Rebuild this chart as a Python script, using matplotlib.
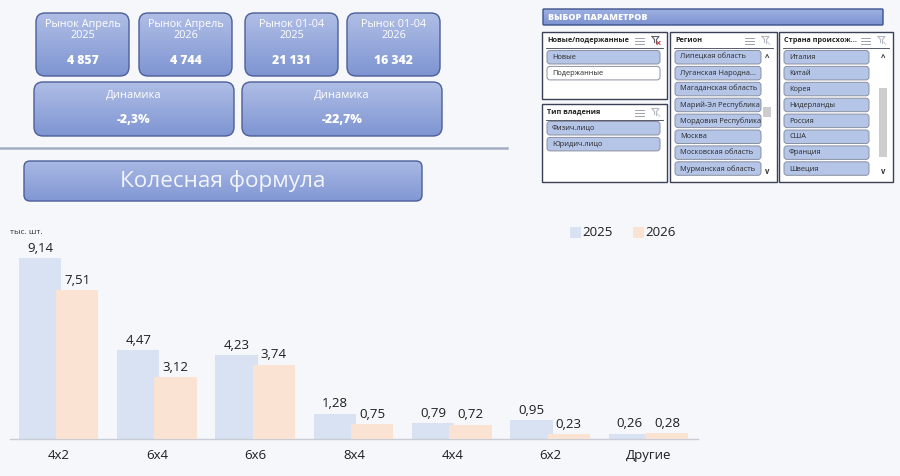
import numpy as np
import matplotlib
matplotlib.use("Agg")
import matplotlib.pyplot as plt
from matplotlib.patches import FancyBboxPatch, Rectangle
from matplotlib.colors import to_rgb

plt.rcParams['font.family'] = ['Open Sans', 'DejaVu Sans']

# ---- data ----
categories = ["4x2", "6x4", "6x6", "8x4", "4x4", "6x2", "Другие"]
values_2025 = [9.14, 4.47, 4.23, 1.28, 0.79, 0.95, 0.26]
values_2026 = [7.51, 3.12, 3.74, 0.75, 0.72, 0.23, 0.28]
series_names = ["2025", "2026"]

card_titles = ["Рынок Апрель\n2025", "Рынок Апрель\n2026", "Рынок 01-04\n2025", "Рынок 01-04\n2026"]
card_values = ["4 857", "4 744", "21 131", "16 342"]
dyn_titles = ["Динамика", "Динамика"]
dyn_values = ["-2,3%", "-22,7%"]

slicer_new_items = ["Новые", "Подержанные"]
slicer_own_items = ["Физич.лицо", "Юридич.лицо"]
slicer_region_items = ["Липецкая область", "Луганская Народна...", "Магаданская область",
                       "Марий-Эл Республика", "Мордовия Республика", "Москва",
                       "Московская область", "Мурманская область"]
slicer_country_items = ["Италия", "Китай", "Корея", "Нидерланды", "Россия", "США",
                        "Франция", "Швеция"]

BG = "#F5F7FB"
C25 = "#D9E2F3"
C26 = "#FBE3D3"

fig = plt.figure(figsize=(9, 4.76), dpi=100, facecolor=BG)

# background overlay in pixel coords
bg = fig.add_axes([0, 0, 1, 1], zorder=0)
bg.set_facecolor(BG)
bg.axis("off")


def grad_box(ax, x, y, w, h, r, ctop, cbot, ec, lw=1.0, z=2):
    patch = FancyBboxPatch((x, y), w, h, boxstyle=f"round,pad=0,rounding_size={r}",
                           facecolor="none", edgecolor=ec, linewidth=lw, zorder=z + 1)
    ax.add_patch(patch)
    t = np.linspace(0, 1, 64)[:, None]
    a = np.array(to_rgb(ctop)); b = np.array(to_rgb(cbot))
    img = (a[None, None, :] * (1 - t[:, :, None]) + b[None, None, :] * t[:, :, None])
    img = np.repeat(img, 2, axis=1)
    im = ax.imshow(img, extent=(x, x + w, y + h, y), origin="upper", aspect="auto",
                   zorder=z, interpolation="bilinear")
    im.set_clip_path(patch)
    return patch


CT, CB, CE = "#B0BEE6", "#7E95D2", "#4C5E98"

# top cards
card_x = [36, 139, 245, 347]
for cx, title, val in zip(card_x, card_titles, card_values):
    grad_box(bg, cx, 13, 93, 63, 9, CT, CB, CE)
    bg.text(cx + 46.5, 30, title, ha="center", va="center", color="white",
            fontsize=7.8, linespacing=0.95, zorder=5)
    bg.text(cx + 46.5, 61, val, ha="center", va="center", color="white",
            fontsize=8.8, fontweight="heavy", zorder=5)

dyn_x = [34, 242]
for dx, title, val in zip(dyn_x, dyn_titles, dyn_values):
    grad_box(bg, dx, 82, 200, 54, 9, CT, CB, CE)
    bg.text(dx + 100, 95, title, ha="center", va="center", color="white",
            fontsize=8, zorder=5)
    bg.text(dx + 100, 120, val, ha="center", va="center", color="white",
            fontsize=8.8, fontweight="heavy", zorder=5)

bg.plot([0, 507], [148, 148], color="#A3ADC2", lw=1.8, zorder=2)

grad_box(bg, 24, 161, 398, 40, 6, "#A9B8E4", "#8198D4", "#4C5E98")
bg.text(223, 181, "Колесная формула", ha="center", va="center", color="#F3F5FB",
        fontsize=16.2, zorder=5)

# slicer header
grad_box(bg, 543, 9, 340, 16, 1, "#9FB1E2", "#7C92D0", "#3F518C")
bg.text(548, 17, "ВЫБОР ПАРАМЕТРОВ", ha="left", va="center", color="white",
        fontsize=6.5, fontweight="heavy", zorder=5)


def icons(ax, x, y, red=False):
    # multi-select icon
    for k in range(3):
        ax.plot([x + 3, x + 9], [y - 3 + 3 * k, y - 3 + 3 * k], color="#8A8F9A", lw=0.6, zorder=6)
        ax.plot([x, x + 1.5], [y - 3 + 3 * k, y - 3 + 3 * k], color="#8A8F9A", lw=0.6, zorder=6)
    # clear filter icon
    fx = x + 17
    col = "#5A5F6A" if red else "#B5B9C2"
    ax.plot([fx, fx + 7, fx + 4.5, fx + 4.5], [y - 4, y - 4, y - 1, y + 3], color=col, lw=0.8, zorder=6)
    ax.plot([fx, fx + 2.5, fx + 2.5], [y - 4, y - 1, y + 2], color=col, lw=0.8, zorder=6)
    if red:
        ax.plot([fx + 5, fx + 8], [y + 1, y + 4], color="#D04040", lw=0.8, zorder=6)
        ax.plot([fx + 5, fx + 8], [y + 4, y + 1], color="#D04040", lw=0.8, zorder=6)
    else:
        ax.plot([fx + 5, fx + 8], [y + 1, y + 4], color="#C8CCD4", lw=0.7, zorder=6)


def slicer(ax, x, y, w, h, title, items, iw, selected=None, first_y=None, scroll=None):
    ax.add_patch(Rectangle((x, y), w, h, facecolor="white", edgecolor="#3B4055", lw=1.0, zorder=3))
    ax.text(x + 5, y + 8.5, title, ha="left", va="center", fontsize=5.2, fontweight="bold",
            color="#222222", zorder=5)
    ax.plot([x + 4, x + w - 4], [y + 16, y + 16], color="#3B4055", lw=0.6, zorder=5)
    icons(ax, x + w - 32, y + 8.5, red=(selected is not None))
    yy = first_y if first_y is not None else y + 18
    for i, it in enumerate(items):
        sel = True if selected is None else (i in selected)
        fc = "#B4C5E8" if sel else "white"
        ax.add_patch(FancyBboxPatch((x + 5, yy), iw, 13.5, boxstyle="round,pad=0,rounding_size=3",
                                    facecolor=fc, edgecolor="#8A90A0", lw=0.7, zorder=4))
        ax.text(x + 10, yy + 7, it, ha="left", va="center", fontsize=5.3, color="#2A2A2A", zorder=5)
        yy += 15.9
    if scroll is not None:
        sx, ty, by = scroll
        ax.add_patch(Rectangle((x + w - 14, ty), 8, by - ty, facecolor="#CDCDCD",
                               edgecolor="none", zorder=4))
        ax.text(x + w - 10, y + 25, "^", ha="center", va="center", fontsize=6,
                fontweight="bold", color="#333333", zorder=5)
        ax.text(x + w - 10, y + 139, "v", ha="center", va="center", fontsize=5.5,
                fontweight="bold", color="#333333", zorder=5)


slicer(bg, 542, 32, 125, 67, "Новые/подержанные", slicer_new_items, 113, selected=[0], first_y=50.5)
slicer(bg, 542, 104, 125, 78, "Тип владения", slicer_own_items, 113, first_y=121.5)
slicer(bg, 670, 32, 107, 150, "Регион", slicer_region_items, 86, first_y=50.5,
       scroll=(0, 107, 117))
slicer(bg, 779, 32, 114, 150, "Страна происхож...", slicer_country_items, 85, first_y=50.5,
       scroll=(0, 88, 157))

bg.set_xlim(0, 900)
bg.set_ylim(476, 0)

# ---- bar chart ----
base_px = 439
top_px = 240
ax = fig.add_axes([10 / 900, (476 - base_px) / 476, 688 / 900, (base_px - top_px) / 476], zorder=2)
ax.patch.set_alpha(0)
x = np.arange(len(categories))
w = 0.43
b1 = ax.bar(x - 0.195, values_2025, w, color=C25, zorder=2, label=series_names[0])
b2 = ax.bar(x + 0.185, values_2026, w, color=C26, zorder=3, label=series_names[1])
ax.set_xlim(-0.5, len(categories) - 0.5)
ax.set_ylim(0, (base_px - top_px) / 19.8)

for bars, vals in ((b1, values_2025), (b2, values_2026)):
    for r, v in zip(bars, vals):
        ax.annotate(f"{v:.2f}".replace(".", ","), (r.get_x() + r.get_width() / 2, v),
                    xytext=(0, 2.5), textcoords="offset points", ha="center", va="bottom",
                    fontsize=9.5, color="#1E1E1E", zorder=5)

for s in ["top", "right", "left"]:
    ax.spines[s].set_visible(False)
ax.spines["bottom"].set_color("#C9CDD6")
ax.spines["bottom"].set_linewidth(1.0)
ax.set_yticks([])
ax.set_xticks(x)
ax.set_xticklabels(categories, fontsize=9.5, color="#1E1E1E")
ax.tick_params(axis="x", length=0, pad=7.5)

bg.text(10, 232, "тыс. шт.", ha="left", va="center", fontsize=6, color="#333333")

# legend
bg.add_patch(Rectangle((570, 227), 11, 11, facecolor=C25, edgecolor="none"))
bg.text(582, 232.5, series_names[0], ha="left", va="center", fontsize=9.5, color="#1E1E1E")
bg.add_patch(Rectangle((633, 227), 11, 11, facecolor=C26, edgecolor="none"))
bg.text(645, 232.5, series_names[1], ha="left", va="center", fontsize=9.5, color="#1E1E1E")

fig.savefig("out.png", dpi=100, facecolor=BG)
